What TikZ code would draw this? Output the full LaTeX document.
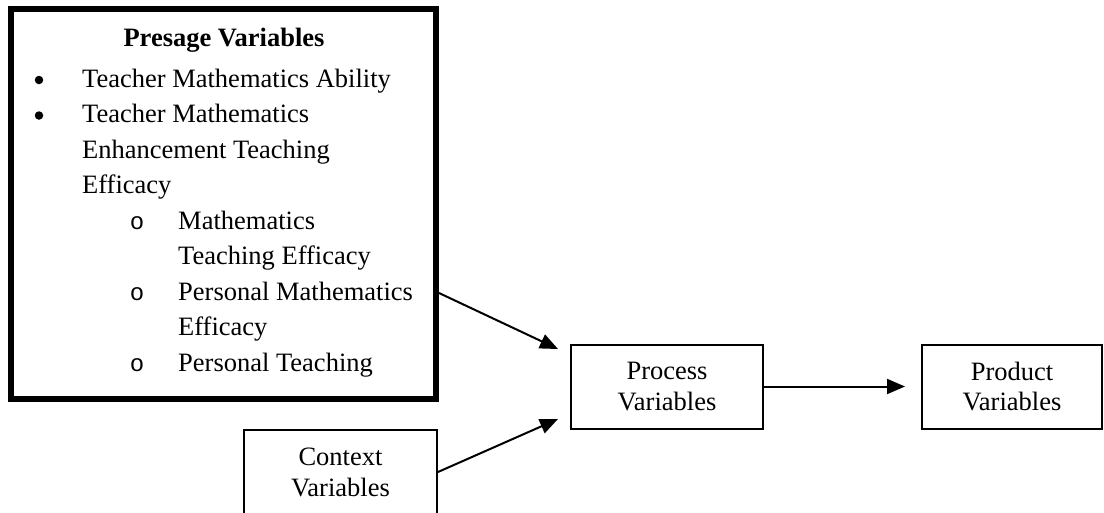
\documentclass[tikz,border=0pt]{standalone}
\usepackage{fontspec}
\setmainfont{Liberation Serif}
\newfontfamily\monofont{Liberation Mono}
\usetikzlibrary{arrows.meta}
\begin{document}
\begin{tikzpicture}[x=1pt,y=-1pt,
  tnorm/.style={font=\fontsize{26.5}{31}\selectfont},
  box/.style={draw,line width=2pt,minimum width=#1,minimum height=84pt,inner sep=0pt,align=center,tnorm},
  txt/.style={anchor=base west,inner sep=0pt,tnorm},
  bul/.style={circle,fill,inner sep=0pt,minimum size=8.5pt},
  sub/.style={anchor=base,inner sep=0pt,font=\monofont\fontsize{24}{31}\selectfont},
  arr/.style={line width=2pt,-{Triangle[length=18pt,width=15pt]}}]
\useasboundingbox[fill=white] (0,0) rectangle (1104,512);
% Presage box
\node[draw,line width=6pt,minimum width=425pt,minimum height=390pt,inner sep=0pt] (presage) at (223.5,204) {};
\node[anchor=base,inner sep=0pt,font=\bfseries\fontsize{26.5}{31}\selectfont] (title) at (224,46) {Presage Variables};
\node[bul] (b1) at (39,80) {};
\node[txt] (l1) at (82,87) {Teacher Mathematics Ability};
\node[bul] (b2) at (39,115.5) {};
\node[txt] (l2) at (82,122.5) {Teacher Mathematics};
\node[txt] (l3) at (82,158) {Enhancement Teaching};
\node[txt] (l4) at (82,193.5) {Efficacy};
\node[sub] (s1) at (137,229) {o};
\node[txt] (l5) at (178,229) {Mathematics};
\node[txt] (l6) at (178,264.5) {Teaching Efficacy};
\node[sub] (s2) at (137,300) {o};
\node[txt] (l7) at (178,300) {Personal Mathematics};
\node[txt] (l8) at (178,335.5) {Efficacy};
\node[sub] (s3) at (137,371) {o};
\node[txt] (l9) at (178,371) {Personal Teaching};
% Other boxes
\node[box=192pt] (process) at (667,386.5) {Process\\Variables};
\node[box=180pt] (product) at (1012,386.5) {Product\\Variables};
\node[box=193pt] (context) at (340.5,472) {Context\\Variables};
% Arrows
\coordinate (s1a) at (439,293);
\coordinate (t1a) at (558,349);
\coordinate (t2a) at (558,419);
\draw[arr] (s1a) -- (t1a);
\draw[arr] (context.east) -- (t2a);
\draw[arr,shorten >=16pt] (process) -- (product);
\end{tikzpicture}
\end{document}
